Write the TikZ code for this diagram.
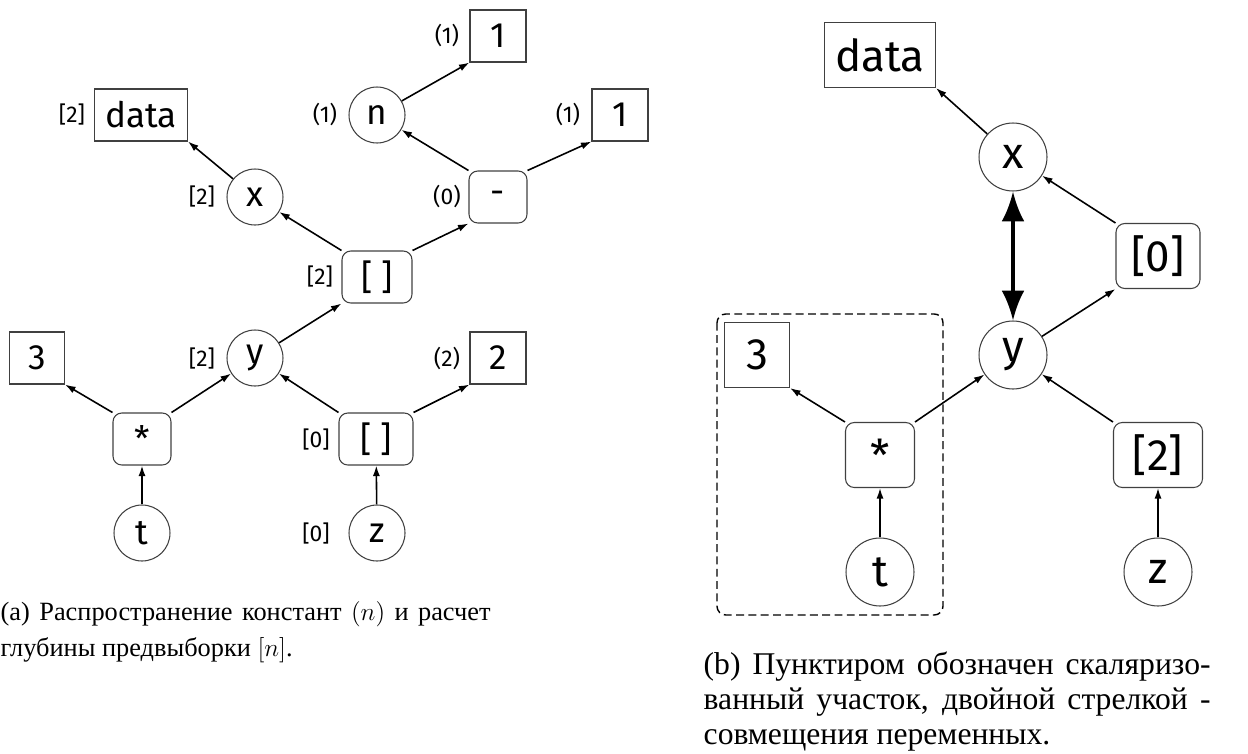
\documentclass[tikz,border=0pt]{standalone}
\usepackage{fontspec}
\newfontfamily\nodefont{Fira Sans}
\newfontfamily\capfont{Liberation Serif}
\usetikzlibrary{arrows.meta}

\begin{document}
\begin{tikzpicture}[x=0.02cm,y=-0.02cm,thick,
  val/.style={draw=black!75,line width=0.6pt,rectangle,inner sep=0pt},
  op/.style={val,rounded corners=5pt},
  var/.style={draw=black!75,line width=0.6pt,circle,inner sep=0pt},
  smallg/.style={font=\nodefont\fontsize{20}{24}\selectfont,minimum height=1.04cm},
  bigg/.style={font=\nodefont\fontsize{25}{30}\selectfont,minimum height=1.3cm},
  lbl/.style={font=\nodefont\fontsize{13}{15}\selectfont,inner sep=0pt},
  link/.style={-{Latex[length=6pt,width=4pt]},line width=0.9pt},
  merge/.style={{Latex[length=17pt,width=13pt]}-{Latex[length=17pt,width=13pt]},line width=2pt},
  captext/.style={anchor=north west,inner sep=0pt,align=justify}]
\useasboundingbox (0,0) rectangle (1248,754);

%%Left graph
\node[val,smallg,minimum width=1.86cm] (dataa) at (141,115) {data};
\node[val,smallg,minimum width=1.12cm] (onea) at (498,36) {1};
\node[var,smallg,minimum size=1.12cm] (na) at (377,115) {n};
\node[val,smallg,minimum width=1.12cm] (oneb) at (620,115) {1};
\node[op,smallg,minimum width=1.16cm] (minusa) at (498,197) {-};
\node[var,smallg,minimum size=1.12cm] (xa) at (255,197) {x};
\node[op,smallg,minimum width=1.4cm] (brka) at (377,277) {[ ]};
\node[var,smallg,minimum size=1.12cm] (ya) at (255,358) {y};
\node[val,smallg,minimum width=1.1cm] (threea) at (37,358) {3};
\node[val,smallg,minimum width=1.12cm] (twoa) at (498,358) {2};
\node[op,smallg,minimum width=1.16cm] (mula) at (142,439) {*};
\node[op,smallg,minimum width=1.48cm] (brkb) at (376,439) {[ ]};
\node[var,smallg,minimum size=1.12cm] (ta) at (142,533) {t};
\node[var,smallg,minimum size=1.12cm] (za) at (377,533) {z};

\draw[link] (xa) -- (dataa.south east);
\draw[link] (na) -- (onea.south west);
\draw[link] (minusa.north west) -- (na);
\draw[link] (minusa.north east) -- (oneb.south west);
\draw[link] (brka.north west) -- (xa);
\draw[link] (brka.north east) -- (minusa.south west);
\draw[link] (ya) -- (brka.south west);
\draw[link] (mula.north west) -- (threea.south east);
\draw[link] (mula.north east) -- (ya);
\draw[link] (brkb.north west) -- (ya);
\draw[link] (brkb.north east) -- (twoa.south west);
\draw[link] (ta) -- (mula);
\draw[link] (za) -- (brkb);

%%Label
\node[lbl] (ldataa) at (72,115) {[2]};
\node[lbl] (lonea) at (447,36) {(1)};
\node[lbl] (lna) at (325,115) {(1)};
\node[lbl] (loneb) at (568,115) {(1)};
\node[lbl] (lminusa) at (447,197) {(0)};
\node[lbl] (lxa) at (202,197) {[2]};
\node[lbl] (lbrka) at (320,277) {[2]};
\node[lbl] (lya) at (202,358) {[2]};
\node[lbl] (ltwoa) at (447,358) {(2)};
\node[lbl] (lbrkb) at (316,439) {[0]};
\node[lbl] (lza) at (316,533) {[0]};

%%Right graph
\draw[dashed,dash pattern=on 4.5pt off 2.5pt,line width=0.8pt,rounded corners=5pt] (717,314) rectangle (943,615);
\node[val,bigg,minimum width=2.22cm] (datab) at (880,55) {data};
\node[var,bigg,minimum size=1.36cm] (xb) at (1013,157) {x};
\node[op,bigg,minimum width=1.68cm] (idxa) at (1158,256) {[0]};
\node[var,bigg,minimum size=1.36cm] (yb) at (1013,355) {y};
\node[val,bigg,minimum width=1.3cm] (threeb) at (757,355) {3};
\node[op,bigg,minimum width=1.38cm] (mulb) at (880,455) {*};
\node[op,bigg,minimum width=1.78cm] (idxb) at (1158,455) {[2]};
\node[var,bigg,minimum size=1.36cm] (tb) at (880,572) {t};
\node[var,bigg,minimum size=1.36cm] (zb) at (1158,572) {z};

\draw[link] (xb) -- (datab.south east);
\draw[link] (idxa.north west) -- (xb);
\draw[link] (yb) -- (idxa.south west);
\draw[merge] (xb) -- (yb);
\draw[link] (mulb.north west) -- (threeb.south east);
\draw[link] (mulb.north east) -- (yb);
\draw[link] (idxb.north west) -- (yb);
\draw[link] (tb) -- (mulb);
\draw[link] (zb) -- (idxb);

%%Captions
\node[captext,text width=9.8cm,font=\capfont\fontsize{15}{20.5}\selectfont] (capa) at (0,601)
  {(a) Распространение констант $(n)$ и расчет\linebreak глубины предвыборки $[n]$.};
\node[captext,text width=10.14cm,font=\capfont\fontsize{18}{20}\selectfont] (capb) at (703,651)
  {(b) Пунктиром обозначен скаляризо-\linebreak ванный участок, двойной стрелкой -\linebreak совмещения переменных.};

\end{tikzpicture}
\end{document}
